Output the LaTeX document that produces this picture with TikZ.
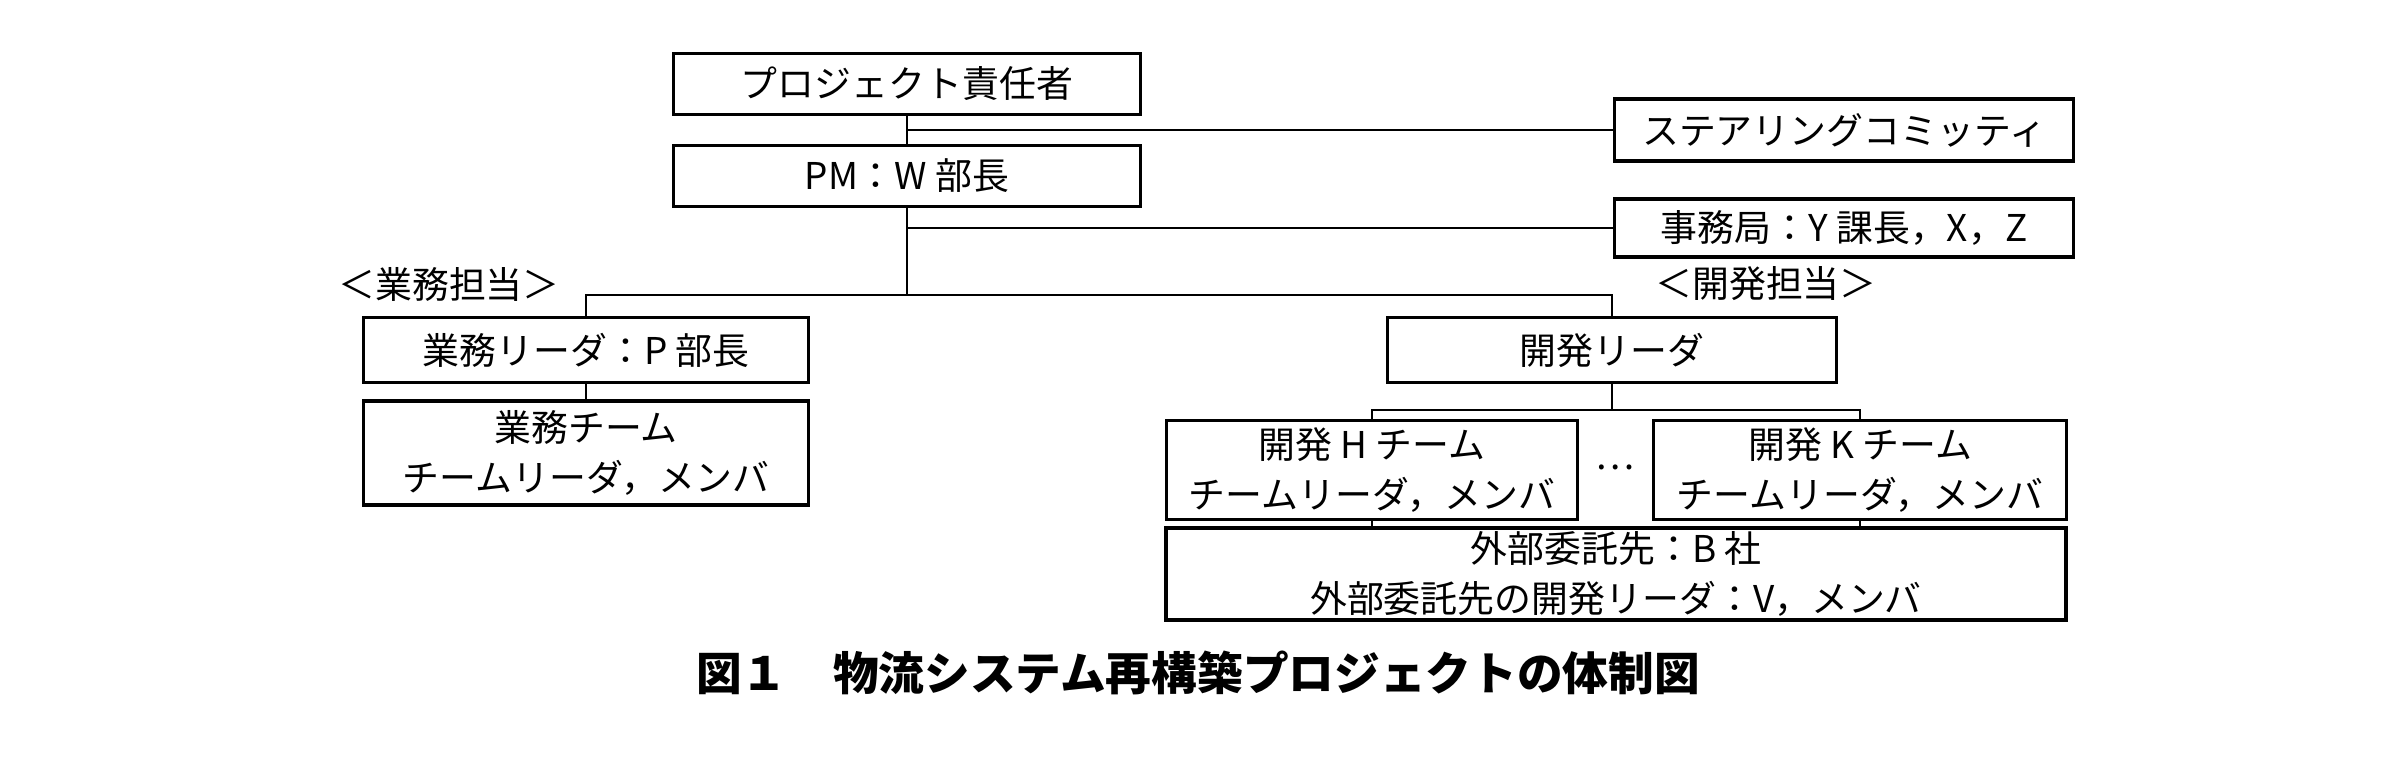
\documentclass[tikz,border=0pt]{standalone}
\usepackage{fontspec}
\setmainfont{Noto Sans CJK JP}
\usepackage{tikz}
\usetikzlibrary{calc}

\begin{document}
\begin{tikzpicture}[
    box/.style={draw, rectangle, line width=0.9pt, inner sep=0pt, align=center,
      font=\fontsize{10.5}{14}\selectfont},
    link/.style={line width=0.8pt}
  ]
      \useasboundingbox (0,0) rectangle (24,7.7);

      % top of the organisation
      \node (resp) at (9.07,6.86) [box, minimum width=4.67cm, minimum height=0.61cm] {プロジェクト責任者};
      \node (pm) at (9.07,5.94) [box, minimum width=4.67cm, minimum height=0.61cm] {PM：W 部長};
      \node (steer) at (18.44,6.40) [box, minimum width=4.59cm, minimum height=0.62cm] {ステアリングコミッティ};
      \node (jimu) at (18.44,5.42) [box, minimum width=4.59cm, minimum height=0.58cm] {事務局：Y 課長，X，Z};

      \draw[link] (resp.south) to (pm.north);
      \draw[link] (resp.south |- steer.west) to (steer.west);
      \draw[link] (pm.south |- jimu.west) to (jimu.west);

      % business side
      \node (gl) at (5.86,4.20) [box, minimum width=4.45cm, minimum height=0.65cm] {業務リーダ：P 部長};
      \node (gt) at (5.86,3.17) [box, minimum width=4.45cm, minimum height=1.04cm] {業務チーム\\チームリーダ，メンバ};
      \node (glab) at (4.49,4.86) [font=\fontsize{10.5}{14}\selectfont] {＜業務担当＞};

      % development side
      \node (dl) at (16.12,4.20) [box, minimum width=4.49cm, minimum height=0.65cm] {開発リーダ};
      \node (dlab) at (17.66,4.86) [font=\fontsize{10.5}{14}\selectfont] {＜開発担当＞};
      \node (ht) at (13.72,3.00) [box, minimum width=4.11cm, minimum height=0.99cm] {開発 H チーム\\チームリーダ，メンバ};
      \node (kt) at (18.60,3.00) [box, minimum width=4.13cm, minimum height=0.99cm] {開発 K チーム\\チームリーダ，メンバ};
      \node (dots) at (16.15,3.03) [font=\fontsize{10.5}{14}\selectfont] {…};
      \node (bco) at (16.16,1.96) [box, minimum width=9.00cm, minimum height=0.92cm] {外部委託先：B 社\\外部委託先の開発リーダ：V，メンバ};

      \coordinate (fork) at (9.07,4.75);
      \coordinate (devfork) at (16.12,3.60);

      \draw[link] (pm.south) to (fork);
      \draw[link] (gl.north) |- (fork) -| (dl.north);
      \draw[link] (gl.south) to (gt.north);
      \draw[link] (dl.south) to (devfork);
      \draw[link] (ht.north) |- (devfork) -| (kt.north);
      \draw[link] (ht.south) to (ht.south |- bco.north);
      \draw[link] (kt.south) to (kt.south |- bco.north);

      % caption
      \node (cap) at (11.98,0.97) [font=\fontsize{13}{16}\selectfont\bfseries] {図１　物流システム再構築プロジェクトの体制図};
\end{tikzpicture}
\end{document}
